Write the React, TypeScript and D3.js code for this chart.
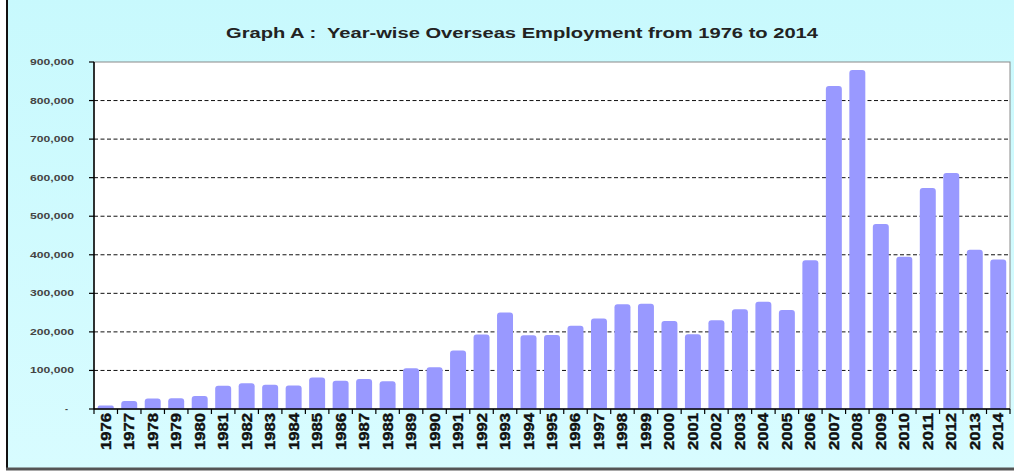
import React from "react";
import * as d3 from "d3";

const years = [
  "1976","1977","1978","1979","1980","1981","1982","1983","1984","1985",
  "1986","1987","1988","1989","1990","1991","1992","1993","1994","1995",
  "1996","1997","1998","1999","2000","2001","2002","2003","2004","2005",
  "2006","2007","2008","2009","2010","2011","2012","2013","2014",
];
const employment = [
  9000, 21000, 27000, 28000, 34000, 60000, 67000, 63000, 61000, 82000,
  73000, 78000, 72000, 106000, 108000, 152000, 193000, 250000, 191000, 192000,
  216000, 235000, 272000, 273000, 228000, 194000, 230000, 259000, 278000, 257000,
  386000, 838000, 879000, 480000, 395000, 573000, 612000, 413000, 388000,
];
const yTicks = [0, 100000, 200000, 300000, 400000, 500000, 600000, 700000, 800000, 900000];
const title = "Graph A :  Year-wise Overseas Employment from 1976 to 2014";

const W = 1014;
const H = 471;
const plot = { left: 94, right: 1010, top: 62, bottom: 409 };

export default function App() {
  const x = d3.scaleBand<string>().domain(years).range([plot.left, plot.right]).paddingInner(0.32).paddingOuter(0.16);
  const xStep = d3.scaleBand<string>().domain(years).range([plot.left, plot.right]);
  const y = d3.scaleLinear().domain([0, 900000]).range([plot.bottom, plot.top]);
  const fmt = d3.format(",");
  const font = "Arial, 'Liberation Sans', sans-serif";

  const barPath = (x0: number, w: number, top: number, bottom: number) => {
    const r = Math.min(3, (bottom - top) / 2);
    return `M${x0},${bottom}V${top + r}Q${x0},${top} ${x0 + r},${top}H${x0 + w - r}Q${x0 + w},${top} ${x0 + w},${top + r}V${bottom}Z`;
  };

  return (
    <svg width={W} height={H} style={{ position: "absolute", left: 0, top: 0, display: "block" }}>
      <defs>
        <linearGradient id="bg" x1="0" y1="0" x2="0" y2="1">
          <stop offset="0" stopColor="#c8f9fd" />
          <stop offset="1" stopColor="#d8fcff" />
        </linearGradient>
      </defs>
      <rect x={0} y={0} width={W} height={H} fill="#ffffff" />
      <rect x={6} y={-5} width={W} height={474} fill="url(#bg)" />
      <line x1={7} y1={-5} x2={7} y2={469} stroke="#111" strokeWidth={2} />
      <line x1={6} y1={469} x2={W} y2={469} stroke="#555" strokeWidth={3} />

      <text x={522} y={38} textAnchor="middle" fontFamily={font} fontWeight="bold" fontSize={14.5}
        fill="#222" style={{ whiteSpace: "pre" }} textLength={592} lengthAdjust="spacingAndGlyphs">{title}</text>

      <rect x={plot.left} y={plot.top} width={plot.right - plot.left} height={plot.bottom - plot.top}
        fill="#ffffff" stroke="#8a8a8a" strokeWidth={1} />

      {yTicks.filter((t) => t > 0 && t < 900000).map((t) => (
        <line key={"g" + t} x1={plot.left} x2={plot.right} y1={y(t)} y2={y(t)}
          stroke="#111" strokeWidth={1} strokeDasharray="4,2.5" />
      ))}

      {employment.map((v, i) => {
        const bx = x(years[i])!;
        return <path key={years[i]} d={barPath(bx, x.bandwidth(), y(v), y(0))} fill="#9999ff" />;
      })}

      <line x1={plot.left} x2={plot.left} y1={plot.top} y2={plot.bottom} stroke="#000" strokeWidth={1.5} />
      <line x1={plot.left} x2={plot.right} y1={plot.bottom} y2={plot.bottom} stroke="#000" strokeWidth={1.5} />

      {yTicks.map((t) => (
        <g key={"y" + t}>
          <line x1={plot.left - 5} x2={plot.left} y1={y(t)} y2={y(t)} stroke="#000" strokeWidth={1.2} />
          {t === 0 ? (
            <text x={68} y={y(t) + 3} textAnchor="end" fontFamily={font} fontWeight="bold" fontSize={9} fill="#444">-</text>
          ) : (
            <text x={74} y={y(t) + 3} textAnchor="end" fontFamily={font} fontWeight="bold" fontSize={8.5}
              fill="#444" textLength={44} lengthAdjust="spacingAndGlyphs">{fmt(t)}</text>
          )}
        </g>
      ))}

      {[...years.map((yr) => xStep(yr)!), plot.right].map((px, i) => (
        <line key={"xt" + i} x1={px} x2={px} y1={plot.bottom} y2={plot.bottom + 5} stroke="#000" strokeWidth={1.2} />
      ))}

      {years.map((yr) => {
        const cx = xStep(yr)! + xStep.bandwidth() / 2;
        return (
          <text key={"xl" + yr} transform={`translate(${cx + 5},${450}) rotate(-90)`} fontFamily={font}
            fontWeight="bold" fontSize={14} fill="#111" stroke="#111" strokeWidth={0.4}
            textLength={37} lengthAdjust="spacingAndGlyphs">{yr}</text>
        );
      })}
    </svg>
  );
}
